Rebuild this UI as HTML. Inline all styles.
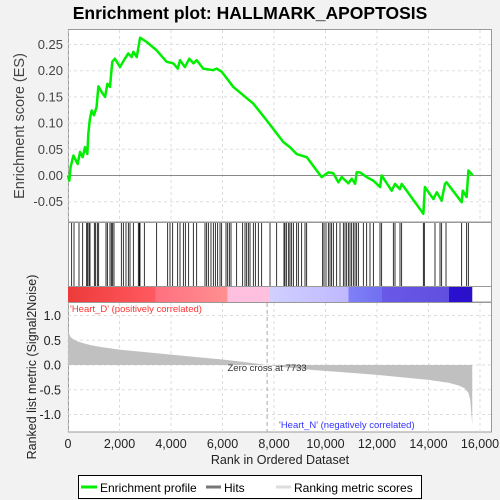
<!DOCTYPE html>
<html><head><meta charset="utf-8"><style>
body{margin:0;background:#f2f2f2;}
svg{display:block;font-family:"Liberation Sans",sans-serif;}
</style></head><body>
<svg width="500" height="500" viewBox="0 0 500 500">
<text x="250" y="19" text-anchor="middle" font-size="17.5" font-weight="bold">Enrichment plot: HALLMARK_APOPTOSIS</text>
<g id="topPanel"></g>
<g id="hitsPanel"></g>
<g id="botPanel"></g>
<g>
<rect x="78.5" y="475.5" width="343" height="23" fill="#fff" stroke="#000"/>
<line x1="81" y1="487" x2="97" y2="487" stroke="#00ee00" stroke-width="3"/>
<text x="100" y="492" font-size="12">Enrichment profile</text>
<line x1="206" y1="487" x2="221" y2="487" stroke="#777" stroke-width="3"/>
<text x="224" y="492" font-size="12">Hits</text>
<line x1="276" y1="487" x2="291" y2="487" stroke="#ddd" stroke-width="3"/>
<text x="294" y="492" font-size="12">Ranking metric scores</text>
</g>
</svg>
<script>
const esRanks=[0,50,100,210,375,470,570,660,750,790,850,920,1010,1110,1180,1310,1440,1530,1630,1720,1820,2020,2210,2340,2470,2540,2670,2800,3050,3440,3830,4090,4260,4350,4540,4710,4870,5000,5250,5640,5770,5970,6420,6810,7200,7720,8360,8620,8880,9270,9850,10110,10300,10500,10630,10890,11020,11150,11210,11340,11600,11860,12120,12180,12570,12700,12890,12960,13800,13860,14190,14320,14510,14640,14700,15290,15330,15480,15550,15720];
const esValues=[0,-0.01,0.016,0.038,0.022,0.045,0.035,0.054,0.041,0.08,0.108,0.124,0.115,0.131,0.17,0.159,0.15,0.175,0.169,0.217,0.223,0.207,0.223,0.233,0.226,0.236,0.226,0.263,0.255,0.239,0.217,0.214,0.204,0.22,0.207,0.223,0.214,0.22,0.204,0.201,0.204,0.198,0.169,0.153,0.137,0.105,0.064,0.054,0.041,0.035,-0.003,0.006,0.0045,-0.013,-0.003,-0.015,-0.006,-0.016,0.006,0.006,-0.003,-0.01,-0.022,0,-0.029,-0.016,-0.026,-0.016,-0.073,-0.022,-0.045,-0.032,-0.048,-0.016,-0.013,-0.051,-0.029,-0.041,0.0096,0];
const hitRanks=[142,233,427,570,725,764,816,854,1023,1074,1139,1191,1476,1528,1631,1683,1735,1786,2071,2149,2252,2343,2408,2537,2731,2770,2796,2964,3443,3871,3961,4065,4259,4350,4479,4557,4686,4867,4997,5320,5385,5450,5553,5644,5722,5812,5903,5968,6136,6201,6265,6330,6550,6783,6874,6939,7003,7068,7197,7275,7392,7521,7845,8104,8388,8427,8492,8570,8621,8686,8751,8880,8945,9074,9204,9269,9890,9942,10019,10110,10175,10239,10304,10434,10563,10693,10757,10822,10887,10951,11016,11081,11146,11210,11275,11469,11599,11728,11858,12117,12181,12634,12699,12893,12958,13799,13838,14252,14447,14511,14680,15288,15482,15547];
const metricRanks=[0,30,100,300,600,900,1300,2000,3000,4000,5000,6000,7000,7733,8500,9500,10500,12000,13000,14000,14800,15200,15400,15550,15620,15660,15700];
const metricValues=[0.75,0.65,0.56,0.49,0.44,0.4,0.36,0.31,0.26,0.21,0.16,0.11,0.05,0,-0.05,-0.1,-0.14,-0.2,-0.25,-0.3,-0.36,-0.42,-0.47,-0.56,-0.7,-0.95,-1.2];
const xTicks=[0,2000,4000,6000,8000,10000,12000,14000,16000];
const xTickLabels=["0","2,000","4,000","6,000","8,000","10,000","12,000","14,000","16,000"];
const esTicks=[-0.05,0,0.05,0.1,0.15,0.2,0.25];
const esTickLabels=["-0.05","0.00","0.05","0.10","0.15","0.20","0.25"];
const mTicks=[-1,-0.5,0,0.5,1];
const mTickLabels=["-1.0","-0.5","0.0","0.5","1.0"];
const colorStops=[[0,"#ee3a3a"],[3400,"#ff5a60"],[3400,"#ff7080"],[6200,"#ff9090"],[6200,"#ffc0e0"],[7800,"#ffc0e0"],[7800,"#d0d0ff"],[10900,"#c0b8ff"],[10900,"#8080f8"],[12200,"#7070f0"],[12200,"#6a58e8"],[14800,"#6050e0"],[14800,"#2a10d0"],[15700,"#2a10c8"]];

const NS="http://www.w3.org/2000/svg";
const L=68,R=492,XMAX=16000;
const xs=v=>L+v*(480-68)/XMAX;
const yEs=v=>175.5-v*524;
const yM=v=>365-v*49.5;
function mk(p,t,a){const e=document.createElementNS(NS,t);for(const k in a)e.setAttribute(k,a[k]);p.appendChild(e);return e;}
const gTop=document.getElementById('topPanel'),gHits=document.getElementById('hitsPanel'),gBot=document.getElementById('botPanel'),svgEl=document.querySelector('svg');

let rr=mk(gTop,'rect',{x:L+0.5,y:29.5,width:R-L-1,height:192.5,fill:'#fff',stroke:'#999'});

xTicks.forEach(t=>{let g=mk(gTop,'line',{x1:xs(t),x2:xs(t),y1:30,y2:222,stroke:'#ddd','stroke-dasharray':'3,3'});});
esTicks.forEach((t,i)=>{
 let g=mk(gTop,'line',{x1:L,x2:R,y1:yEs(t),y2:yEs(t),stroke:t===0?'#888':'#ddd','stroke-dasharray':t===0?'none':'3,3'});
 
 let tx=mk(gTop,'text',{x:63,y:yEs(t)+4.5,'text-anchor':'end','font-size':'13',fill:'#444'});tx.textContent=esTickLabels[i];
 
});
let yt=mk(gTop,'text',{x:0,y:0,transform:'translate(24,126) rotate(-90)','text-anchor':'middle','font-size':'14.5',fill:'#444'});yt.textContent='Enrichment score (ES)';

let pl=mk(gTop,'polyline',{points:esRanks.map((v,i)=>xs(v)+','+yEs(esValues[i])).join(' '),fill:'none',stroke:'#00ee00','stroke-width':'2.5','stroke-linejoin':'round'});


rr=mk(gHits,'rect',{x:L+0.5,y:222.5,width:R-L-1,height:79.5,fill:'#fff',stroke:'#999'});

hitRanks.forEach(h=>{let l=mk(gHits,'line',{x1:xs(h),x2:xs(h),y1:223,y2:286,stroke:'#000','stroke-width':'0.8'});});
const defs=mk(svgEl,'defs',{});const gr=mk(defs,'linearGradient',{id:'cb',x1:xs(0),x2:xs(15700),y1:0,y2:0,gradientUnits:'userSpaceOnUse'});
colorStops.forEach(s=>mk(gr,'stop',{offset:(s[0]/15700),'stop-color':s[1]}));
rr=mk(gHits,'rect',{x:xs(0),y:286,width:xs(15700)-xs(0),height:16,fill:'url(#cb)'});

mk(gHits,'line',{x1:L,x2:R,y1:286.5,y2:286.5,stroke:'#999'});

rr=mk(gBot,'rect',{x:L+0.5,y:302.5,width:R-L-1,height:129.5,fill:'#fff',stroke:'#999'});

xTicks.forEach((t,i)=>{
 let g=mk(gBot,'line',{x1:xs(t),x2:xs(t),y1:303,y2:432,stroke:'#ddd','stroke-dasharray':'3,3'});
 let tx=mk(gBot,'text',{x:xs(t),y:448,'text-anchor':'middle','font-size':'12.5',fill:'#222'});tx.textContent=xTickLabels[i];
 
});
mTicks.forEach((t,i)=>{
 let g=mk(gBot,'line',{x1:L,x2:R,y1:yM(t),y2:yM(t),stroke:'#ddd','stroke-dasharray':'3,3'});
 let tx=mk(gBot,'text',{x:61,y:yM(t)+4.5,'text-anchor':'end','font-size':'12.5',fill:'#222'});tx.textContent=mTickLabels[i];
 
});
let pts=[xs(0)+','+yM(0)].concat(metricRanks.map((v,i)=>xs(v)+','+yM(metricValues[i]))).concat([xs(15700)+','+yM(0)]);
let ar=mk(gBot,'polygon',{points:pts.join(' '),fill:'#c0c0c0'});

let zl=mk(gBot,'line',{x1:xs(7733),x2:xs(7733),y1:303,y2:432,stroke:'#aaa','stroke-dasharray':'4,3'});

let zt=mk(gBot,'text',{x:xs(7733),y:371,'text-anchor':'middle','font-size':'9.5',fill:'#333'});zt.textContent='Zero cross at 7733';

let hd=mk(gBot,'text',{x:70,y:312,'font-size':'9.5',fill:'#ff3333'});hd.textContent="'Heart_D' (positively correlated)";

let hn=mk(gBot,'text',{x:279,y:428,'font-size':'9.5',fill:'#3333ff'});hn.textContent="'Heart_N' (negatively correlated)";

let my=mk(gBot,'text',{x:0,y:0,transform:'translate(36,367) rotate(-90)','text-anchor':'middle','font-size':'12.5',fill:'#222'});my.textContent='Ranked list metric (Signal2Noise)';

let xt=mk(gBot,'text',{x:280,y:464,'text-anchor':'middle','font-size':'12.5',fill:'#222'});xt.textContent='Rank in Ordered Dataset';

</script>
</body></html>
